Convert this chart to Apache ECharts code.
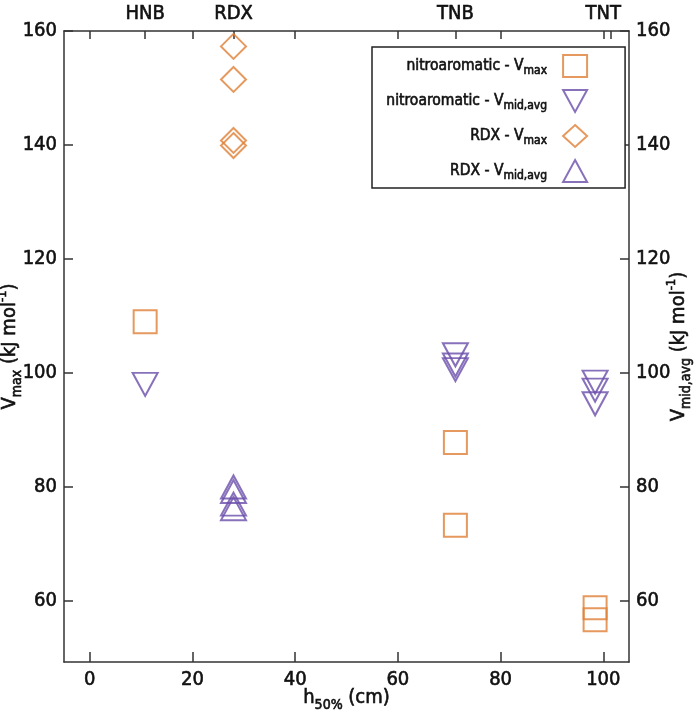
<!DOCTYPE html>
<html><head><meta charset="utf-8">
<script src="https://cdn.jsdelivr.net/npm/echarts@6/dist/echarts.min.js"></script>
<style>html,body{margin:0;padding:0;background:#fff}#c{width:700px;height:722px}</style>
</head><body><div id="c"></div>
<script>
// ---- data ----
const xTickValues = [0, 20, 40, 60, 80, 100];
const yTickValues = [60, 80, 100, 120, 140, 160];
const compoundNames = ['HNB', 'RDX', 'TNB', 'TNT'];
const compoundLabelX = [10.8, 28, 71.2, 100];
const compoundTickX = [10.8, 28, 71.2, 101.5];

const nitroMaxX = [10.8, 71.2, 71.2, 98.4, 98.4];
const nitroMaxY = [109, 87.8, 73.3, 58.8, 56.7];
const nitroMidX = [10.8, 71.2, 71.2, 71.2, 98.4, 98.4, 98.4];
const nitroMidY = [98, 103.2, 101.4, 100.6, 98.4, 97.0, 94.6];
const rdxMaxX = [28, 28, 28, 28];
const rdxMaxY = [157.3, 151.5, 140.8, 139.9];
const rdxMidX = [28, 28, 28, 28];
const rdxMidY = [80.0, 79.2, 77.0, 76.2];

const seriesNames = ['nitroaromatic - Vmax', 'nitroaromatic - Vmid', 'RDX - Vmax', 'RDX - Vmid'];

const ORANGE = '#DE7F36';
const PURPLE = '#6A4DAA';
const FONT = '"DejaVu Sans Condensed", "Liberation Sans Narrow", Roboto, sans-serif';
const AX = '#333';
const TXT = '#111';

function pairs(xs, ys) { return xs.map((x, i) => [x, ys[i]]); }

const chart = echarts.init(document.getElementById('c'), null, {renderer: 'canvas'});
const axisLineStyle = {color: AX, width: 1.5};
const fb = {textBorderColor: TXT, textBorderWidth: 0.6};
const lbl = {fontFamily: FONT, fontSize: 20, color: TXT, ...fb};
const richName = {
  b: {fontFamily: FONT, fontSize: 20, color: TXT, lineHeight: 28, verticalAlign: 'middle', ...fb},
  sub: {fontFamily: FONT, fontSize: 14, color: TXT, lineHeight: 28, verticalAlign: 'bottom', ...fb},
  sup: {fontFamily: FONT, fontSize: 13, color: TXT, lineHeight: 28, verticalAlign: 'top', ...fb}
};
const richLeg = {
  b: {fontFamily: FONT, fontSize: 15.5, color: TXT, lineHeight: 22, verticalAlign: 'middle', ...fb},
  sub: {fontFamily: FONT, fontSize: 12, color: TXT, lineHeight: 22, verticalAlign: 'bottom', ...fb}
};

function symSeries(name, data, symbol, color, rotate, yIdx, size) {
  return {
    name, type: 'scatter', data, symbol, symbolSize: size, symbolRotate: rotate,
    xAxisIndex: 0, yAxisIndex: yIdx,
    itemStyle: {color: 'rgba(0,0,0,0)', borderColor: color, borderWidth: 2},
    emphasis: {disabled: true}, silent: true
  };
}

const option = {
  animation: false,
  backgroundColor: '#fff',
  grid: {left: 64, right: 71, top: 31, bottom: 60, outerBoundsMode: 'none', containLabel: false},
  legend: {
    show: true, orient: 'vertical', left: 372, top: 47,
    padding: [7, 37, 5, 14], itemGap: 11, itemWidth: 24, itemHeight: 22,
    borderColor: '#222', borderWidth: 1.5, backgroundColor: '#fff',
    align: 'right',
    data: [
      {name: seriesNames[0]},
      {name: seriesNames[1], icon: 'path://M0,0 L24,0 L12,22 Z'},
      {name: seriesNames[2]},
      {name: seriesNames[3]}
    ],
    formatter: function (n) {
      const map = {
        'nitroaromatic - Vmax': '{b|nitroaromatic - V}{sub|max}',
        'nitroaromatic - Vmid': '{b|nitroaromatic - V}{sub|mid,avg}',
        'RDX - Vmax': '{b|RDX - V}{sub|max}',
        'RDX - Vmid': '{b|RDX - V}{sub|mid,avg}'
      };
      return map[n];
    },
    textStyle: {width: 150, align: 'right', padding: [0, 11, 0, 0], rich: richLeg}
  },
  xAxis: [{
    type: 'value', position: 'bottom', min: -5, max: 105,
    axisLine: {show: true, onZero: false, lineStyle: axisLineStyle},
    axisTick: {show: true, inside: true, length: 10, customValues: xTickValues, lineStyle: axisLineStyle},
    axisLabel: {customValues: xTickValues, margin: 8, ...lbl},
    splitLine: {show: false},
    name: '{b|h}{sub|50%}{b| (cm)}', nameLocation: 'middle', nameGap: 22, nameMoveOverlap: false,
    nameTextStyle: {rich: richName}
  }, {
    type: 'value', position: 'top', min: -5, max: 105,
    axisLine: {show: true, onZero: false, lineStyle: axisLineStyle},
    axisTick: {show: true, inside: true, length: 8, customValues: xTickValues.concat(compoundTickX), lineStyle: axisLineStyle},
    axisLabel: {customValues: compoundLabelX, margin: 7, ...lbl,
      formatter: v => { const i = compoundLabelX.indexOf(v); return i >= 0 ? compoundNames[i] : ''; }},
    splitLine: {show: false}
  }],
  yAxis: [{
    type: 'value', position: 'left', min: 49.3, max: 160,
    axisLine: {show: true, onZero: false, lineStyle: axisLineStyle},
    axisTick: {show: true, inside: true, length: 9, customValues: yTickValues, lineStyle: axisLineStyle},
    axisLabel: {customValues: yTickValues, margin: 7, ...lbl},
    splitLine: {show: false},
    name: '{b|V}{sub|max}{b| (kJ mol}{sup|-1}{b|)}', nameLocation: 'middle', nameRotate: 90, nameGap: 40, nameMoveOverlap: false,
    nameTextStyle: {rich: richName}
  }, {
    type: 'value', position: 'right', min: 49.3, max: 160,
    axisLine: {show: true, onZero: false, lineStyle: axisLineStyle},
    axisTick: {show: true, inside: true, length: 9, customValues: yTickValues, lineStyle: axisLineStyle},
    axisLabel: {customValues: yTickValues, margin: 7, ...lbl},
    splitLine: {show: false},
    name: '{b|V}{sub|mid,avg}{b| (kJ mol}{sup|-1}{b|)}', nameLocation: 'middle', nameRotate: 90, nameGap: 36, nameMoveOverlap: false,
    nameTextStyle: {rich: richName}
  }],
  series: [
    symSeries(seriesNames[0], pairs(nitroMaxX, nitroMaxY), 'rect', ORANGE, 0, 0, 23),
    symSeries(seriesNames[1], pairs(nitroMidX, nitroMidY), 'triangle', PURPLE, 180, 1, [25, 23]),
    symSeries(seriesNames[2], pairs(rdxMaxX, rdxMaxY), 'diamond', ORANGE, 0, 0, [25, 25]),
    symSeries(seriesNames[3], pairs(rdxMidX, rdxMidY), 'triangle', PURPLE, 0, 1, [25, 23])
  ]
};
chart.setOption(option);
</script>
</body></html>
